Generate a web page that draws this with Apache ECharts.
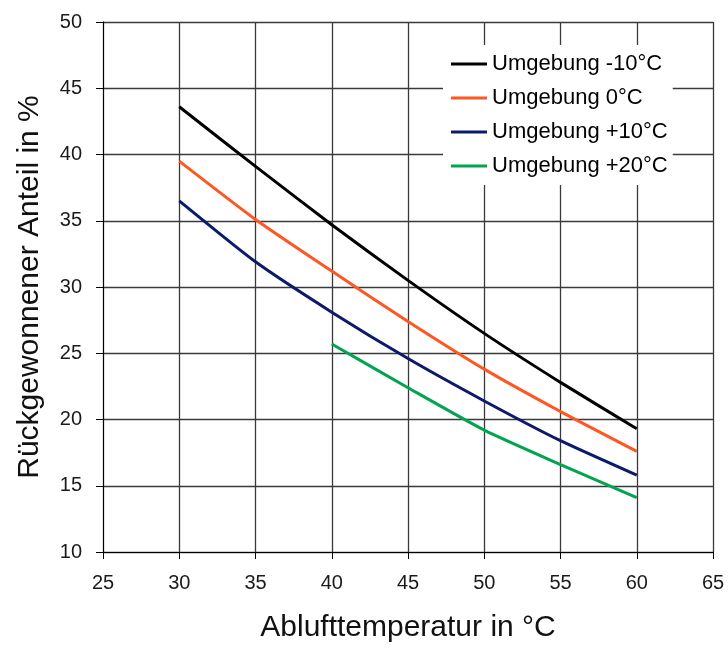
<!DOCTYPE html>
<html>
<head>
<meta charset="utf-8">
<script src="https://cdn.jsdelivr.net/npm/echarts@6/dist/echarts.min.js"></script>
<style>html,body{margin:0;padding:0;background:#fff}#c{width:728px;height:648px}</style>
</head>
<body>
<div id="c"></div>
<script>
const xTemps = [30, 35, 40, 45, 50, 55, 60];
const seriesNames = ['Umgebung -10°C', 'Umgebung 0°C', 'Umgebung +10°C', 'Umgebung +20°C'];
const valsMinus10 = [43.6, 39.1, 34.7, 30.5, 26.5, 22.8, 19.3];
const vals0 = [39.5, 35.1, 31.2, 27.4, 23.8, 20.6, 17.6];
const valsPlus10 = [36.5, 31.9, 28.1, 24.6, 21.4, 18.4, 15.8];
const valsPlus20 = [null, null, 25.7, 22.4, 19.2, 16.6, 14.1];
const colors = ['#000000', '#ff5722', '#0c1a6c', '#00a550'];
const allVals = [valsMinus10, vals0, valsPlus10, valsPlus20];

const chart = echarts.init(document.getElementById('c'));
const font = '"Liberation Sans", Arial, sans-serif';
chart.setOption({
  animation: false,
  backgroundColor: '#fff',
  grid: {left: 103, right: 15, top: 22, bottom: 96, containLabel: false},
  legend: {
    orient: 'vertical', left: 443, top: 45,
    padding: [8, 5, 8, 8],
    backgroundColor: '#fff',
    icon: 'rect',
    itemWidth: 36, itemHeight: 3, itemGap: 12,
    textStyle: {fontFamily: font, fontSize: 22, color: '#000', lineHeight: 20},
    data: seriesNames
  },
  xAxis: {
    type: 'value', min: 25, max: 65, interval: 5,
    name: 'Ablufttemperatur in °C', nameLocation: 'middle', nameGap: 61,
    nameTextStyle: {fontFamily: font, fontSize: 30, color: '#111'},
    axisLine: {lineStyle: {color: '#000', width: 1}},
    axisTick: {show: true, length: 7, lineStyle: {color: '#000'}},
    axisLabel: {fontFamily: font, fontSize: 20, color: '#1a1a1a', margin: 21},
    splitLine: {show: true, lineStyle: {color: '#3a3a3a', width: 1.3}}
  },
  yAxis: {
    type: 'value', min: 10, max: 50, interval: 5,
    name: 'Rückgewonnener Anteil in %', nameLocation: 'middle', nameGap: 58, nameRotate: 90,
    nameTextStyle: {fontFamily: font, fontSize: 30, color: '#111'},
    axisLine: {show: true, lineStyle: {color: '#000', width: 1}},
    axisTick: {show: true, length: 7, lineStyle: {color: '#000'}},
    axisLabel: {fontFamily: font, fontSize: 20, color: '#1a1a1a', margin: 21},
    splitLine: {show: true, lineStyle: {color: '#3a3a3a', width: 1.3}}
  },
  series: seriesNames.map((n, i) => ({
    name: n, type: 'line', smooth: 0.2, symbol: 'none', showSymbol: false,
    connectNulls: false,
    color: colors[i],
    lineStyle: {width: 3, color: colors[i]},
    data: xTemps.map((x, j) => [x, allVals[i][j]]).filter(p => p[1] !== null)
  }))
});
</script>
</body>
</html>
